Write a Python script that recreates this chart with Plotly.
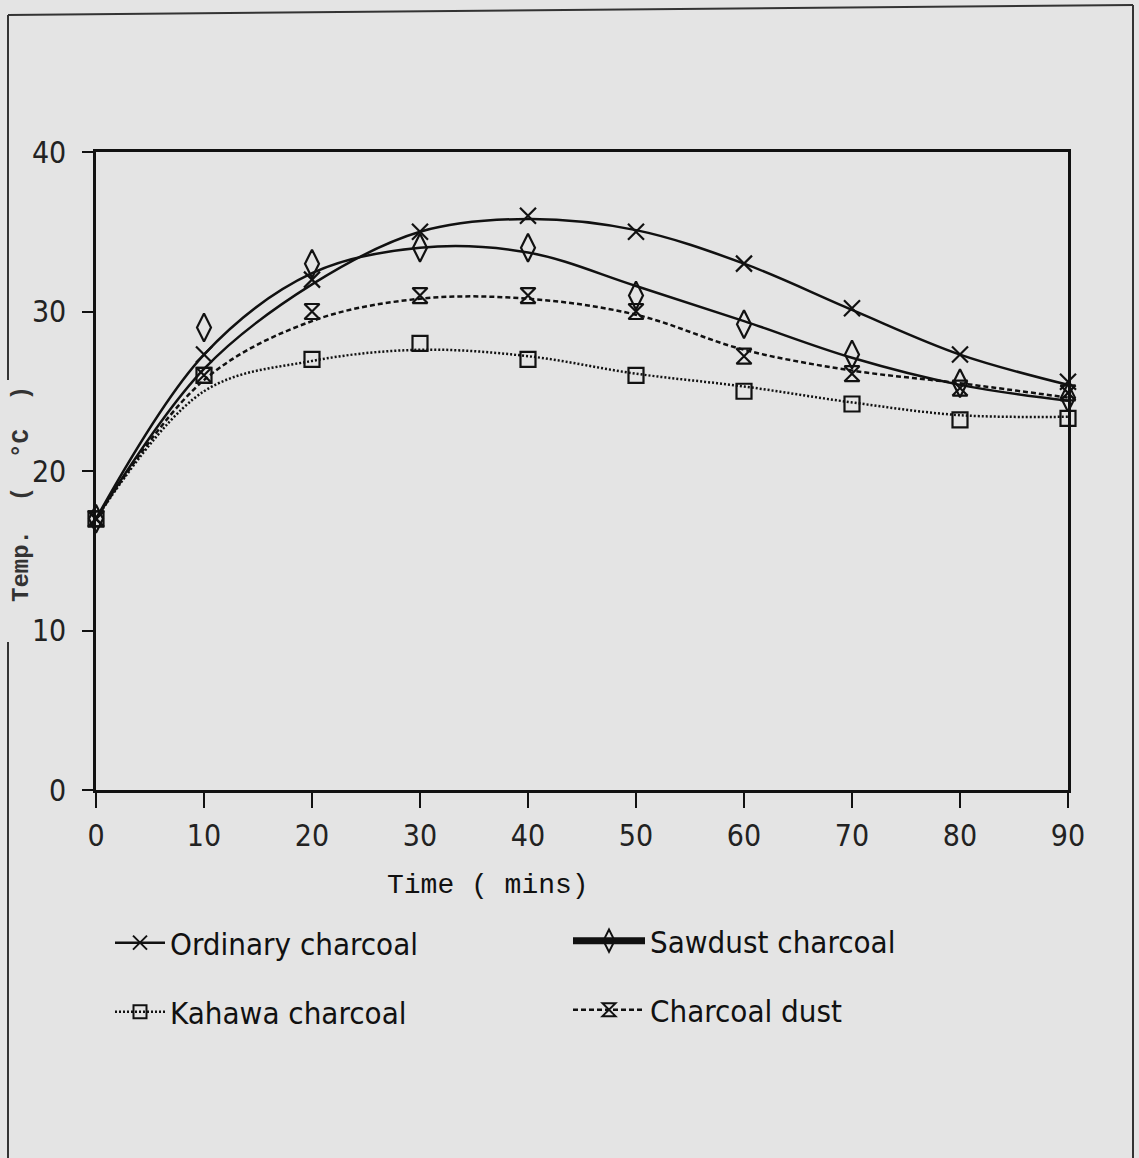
import plotly.graph_objects as go

# Time after ignition (minutes)
time_min = [0, 10, 20, 30, 40, 50, 60, 70, 80, 90]

# Measured temperatures (°C)
ordinary_pts = [17, 27.3, 32, 35, 36, 35, 33, 30.2, 27.3, 25.6]
sawdust_pts = [17, 29, 33, 34, 34, 31, 29.2, 27.3, 25.5, 24.6]
kahawa_pts = [17, 26, 27, 28, 27, 26, 25, 24.2, 23.2, 23.3]
dust_pts = [17, 26, 30, 31, 31, 30, 27.2, 26.1, 25.2, 24.9]

# Fitted trend curves (°C) at the same times
ordinary_fit = [17, 26.4, 31.7, 35.0, 35.8, 35.1, 33.0, 30.1, 27.3, 25.4]
sawdust_fit = [17, 27.3, 32.4, 34.0, 33.7, 31.6, 29.4, 27.1, 25.4, 24.4]
kahawa_fit = [17, 25.0, 26.9, 27.6, 27.2, 26.1, 25.3, 24.3, 23.5, 23.4]
dust_fit = [17, 25.7, 29.4, 30.8, 30.8, 29.8, 27.6, 26.3, 25.5, 24.6]

x_ticks = [0, 10, 20, 30, 40, 50, 60, 70, 80, 90]
y_ticks = [0, 10, 20, 30, 40]

W, H = 1139, 1158
L, R, T, B = 96, 1068, 152, 790  # plot box in pixels

BG = "#e4e4e4"
INK = "#111111"
NARROW = "DejaVu Sans Condensed, Liberation Sans Narrow, sans-serif"
MONO = "Liberation Mono, Courier New, monospace"


def px_x(p):
    return (p - L) / (R - L)


def px_y(p):
    return (B - p) / (B - T)


series = [
    dict(name="Ordinary charcoal", pts=ordinary_pts, fit=ordinary_fit,
         symbol="x-thin-open", size=16, dash="solid", lw_leg=2.5,
         legend="legend", lx=110, ly=943, iw=50),
    dict(name="Sawdust charcoal", pts=sawdust_pts, fit=sawdust_fit,
         symbol="diamond-tall-open", size=20, dash="solid", lw_leg=7,
         legend="legend2", lx=568, ly=941, iw=72),
    dict(name="Kahawa charcoal", pts=kahawa_pts, fit=kahawa_fit,
         symbol="square-open", size=15, dash="2px,2px", lw_leg=2.5,
         legend="legend3", lx=110, ly=1012, iw=50),
    dict(name="Charcoal dust", pts=dust_pts, fit=dust_fit,
         symbol="hourglass-open", size=15, dash="5px,3px", lw_leg=2.5,
         legend="legend4", lx=568, ly=1010, iw=72),
]

fig = go.Figure()
legends = {}
for s in series:
    # smooth trend curve
    fig.add_trace(go.Scatter(
        x=time_min, y=s["fit"], mode="lines", line_shape="spline",
        line=dict(color=INK, width=2.5, dash=s["dash"], smoothing=1.0),
        showlegend=False, hoverinfo="skip", cliponaxis=False,
    ))
    # measured points
    fig.add_trace(go.Scatter(
        x=time_min, y=s["pts"], mode="markers",
        marker=dict(symbol=s["symbol"], size=s["size"], color=INK,
                    line=dict(color=INK, width=2.2)),
        showlegend=False, name=s["name"], cliponaxis=False,
    ))
    # legend key
    fig.add_trace(go.Scatter(
        x=[None], y=[None], mode="lines+markers", name=s["name"],
        line=dict(color=INK, width=s["lw_leg"], dash=s["dash"]),
        marker=dict(symbol=s["symbol"], size=s["size"] - 2, color=INK,
                    line=dict(color=INK, width=2)),
        legend=s["legend"],
    ))
    legends[s["legend"]] = dict(
        orientation="h", xanchor="left", yanchor="middle",
        x=px_x(s["lx"]), y=px_y(s["ly"]),
        font=dict(family=NARROW, size=31, color=INK),
        bgcolor="rgba(0,0,0,0)", itemwidth=s["iw"],
    )

frame = dict(type="line", xref="paper", yref="paper",
             line=dict(color="#333333", width=2))
shapes = [
    dict(frame, x0=px_x(8), y0=px_y(15), x1=px_x(1133), y1=px_y(5)),
    dict(frame, x0=px_x(8), y0=px_y(15), x1=px_x(8), y1=px_y(380)),
    dict(frame, x0=px_x(8), y0=px_y(642), x1=px_x(8), y1=px_y(1158)),
    dict(frame, x0=px_x(1133), y0=px_y(5), x1=px_x(1133), y1=px_y(1158)),
]

fig.update_layout(
    width=W, height=H,
    margin=dict(l=L, r=W - R, t=T, b=H - B),
    paper_bgcolor=BG, plot_bgcolor=BG,
    xaxis=dict(
        range=[0, 90], tickvals=x_ticks, ticktext=[str(v) for v in x_ticks],
        showgrid=False, zeroline=False, showline=True, mirror=True,
        linecolor=INK, linewidth=2.5, ticks="outside", ticklen=15, tickwidth=2,
        tickcolor=INK, ticklabelstandoff=2,
        tickfont=dict(family=NARROW, size=30, color="#222222"),
    ),
    yaxis=dict(
        range=[0, 40], tickvals=y_ticks, ticktext=[str(v) for v in y_ticks],
        showgrid=False, zeroline=False, showline=True, mirror=True,
        linecolor=INK, linewidth=2.5, ticks="outside", ticklen=11, tickwidth=2,
        tickcolor=INK, ticklabelstandoff=10,
        tickfont=dict(family=NARROW, size=30, color="#222222"),
    ),
    shapes=shapes,
    annotations=[
        dict(text="Time ( mins)", xref="paper", yref="paper",
             x=px_x(488), y=px_y(886), xanchor="center", yanchor="middle",
             showarrow=False, font=dict(family=MONO, size=28, color=INK)),
        dict(text="<b>Temp.  (  °C  )</b>", xref="paper", yref="paper",
             x=px_x(21), y=px_y(494), xanchor="center", yanchor="middle",
             showarrow=False, textangle=-90,
             font=dict(family=MONO, size=24, color="#333333")),
    ],
    **legends,
)

fig.write_html("out.html")
